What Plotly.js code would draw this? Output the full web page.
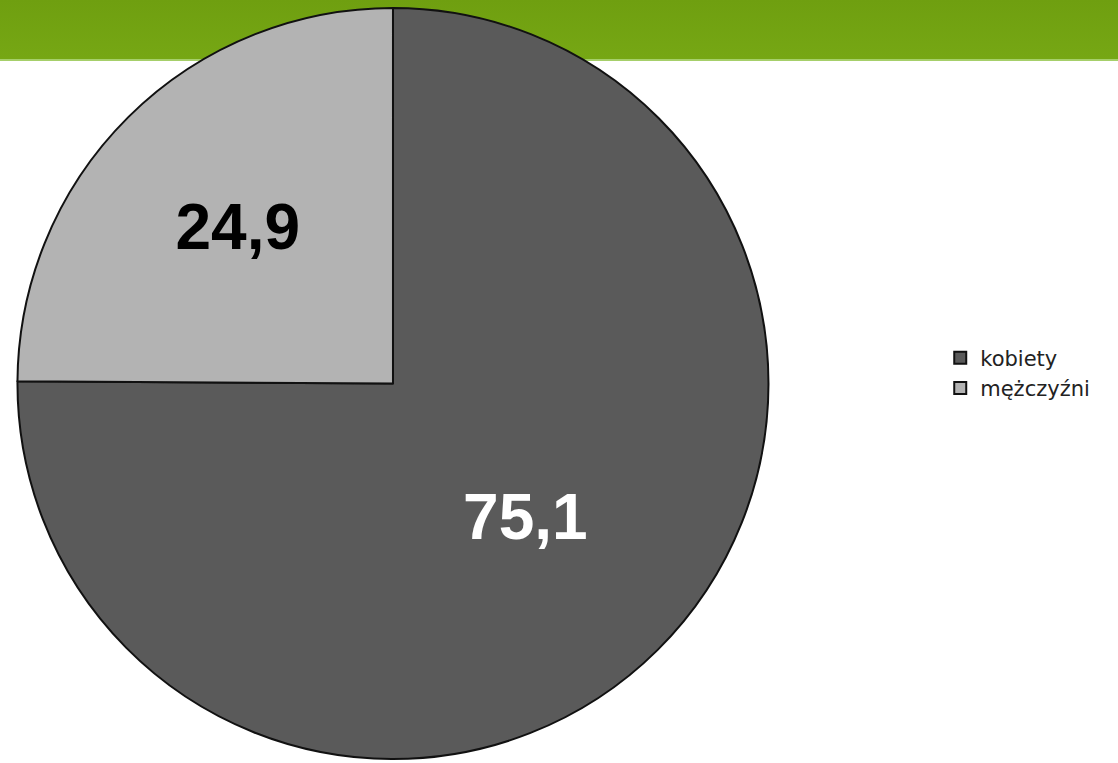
<!DOCTYPE html>
<html>
<head>
<meta charset="utf-8">
<script src="https://cdn.plot.ly/plotly-3.0.1.min.js"></script>
<style>
  html, body { margin: 0; padding: 0; background: #fff; }
  #wrap { position: relative; width: 1118px; height: 763px; }
  /* zielony pasek u góry */
  #band { position: absolute; left: 0; top: 0; width: 1118px; height: 59px;
          background: linear-gradient(#6f9f10, #76a714); border-bottom: 2px solid #a6cf6a; }
  #chart { position: absolute; left: 0; top: 0; width: 1118px; height: 763px; }
</style>
</head>
<body>
<div id="wrap">
  <div id="band"></div>
  <div id="chart"></div>
</div>
<script>
// ─────────────────────────────
// DANE
// ─────────────────────────────
const etykiety = ['kobiety', 'mężczyźni'];
const wartosci = [75.1, 24.9];
const kolory = ['#5a5a5a', '#b3b3b3'];
const koloryTekstu = ['#ffffff', '#000000'];

// ─────────────────────────────
// WYKRES
// ─────────────────────────────
const trace = {
  type: 'pie',
  labels: etykiety,
  values: wartosci,
  sort: false,
  direction: 'clockwise',
  rotation: 0,
  marker: { colors: kolory, line: { color: '#111', width: 2 } },
  texttemplate: '%{value:.1f}',
  textposition: 'inside',
  insidetextorientation: 'horizontal',
  textfont: { family: 'Liberation Sans', size: 64, color: koloryTekstu, weight: 'bold' },
  hoverinfo: 'none',
  domain: { x: [0.0143, 0.6887], y: [0.0052, 0.9895] }
};

Plotly.newPlot('chart', [trace], {
  width: 1118,
  height: 763,
  separators: ', ',
  margin: { l: 0, r: 0, t: 0, b: 0 },
  paper_bgcolor: 'rgba(0,0,0,0)',
  plot_bgcolor: 'rgba(0,0,0,0)',
  font: { family: 'DejaVu Sans', color: '#222' },
  showlegend: true,
  legend: {
    x: 0.841, y: 0.511, xanchor: 'left', yanchor: 'middle',
    font: { size: 21, color: '#222' },
    itemwidth: 30, tracegroupgap: 0
  }
}, { staticPlot: true });
</script>
</body>
</html>
